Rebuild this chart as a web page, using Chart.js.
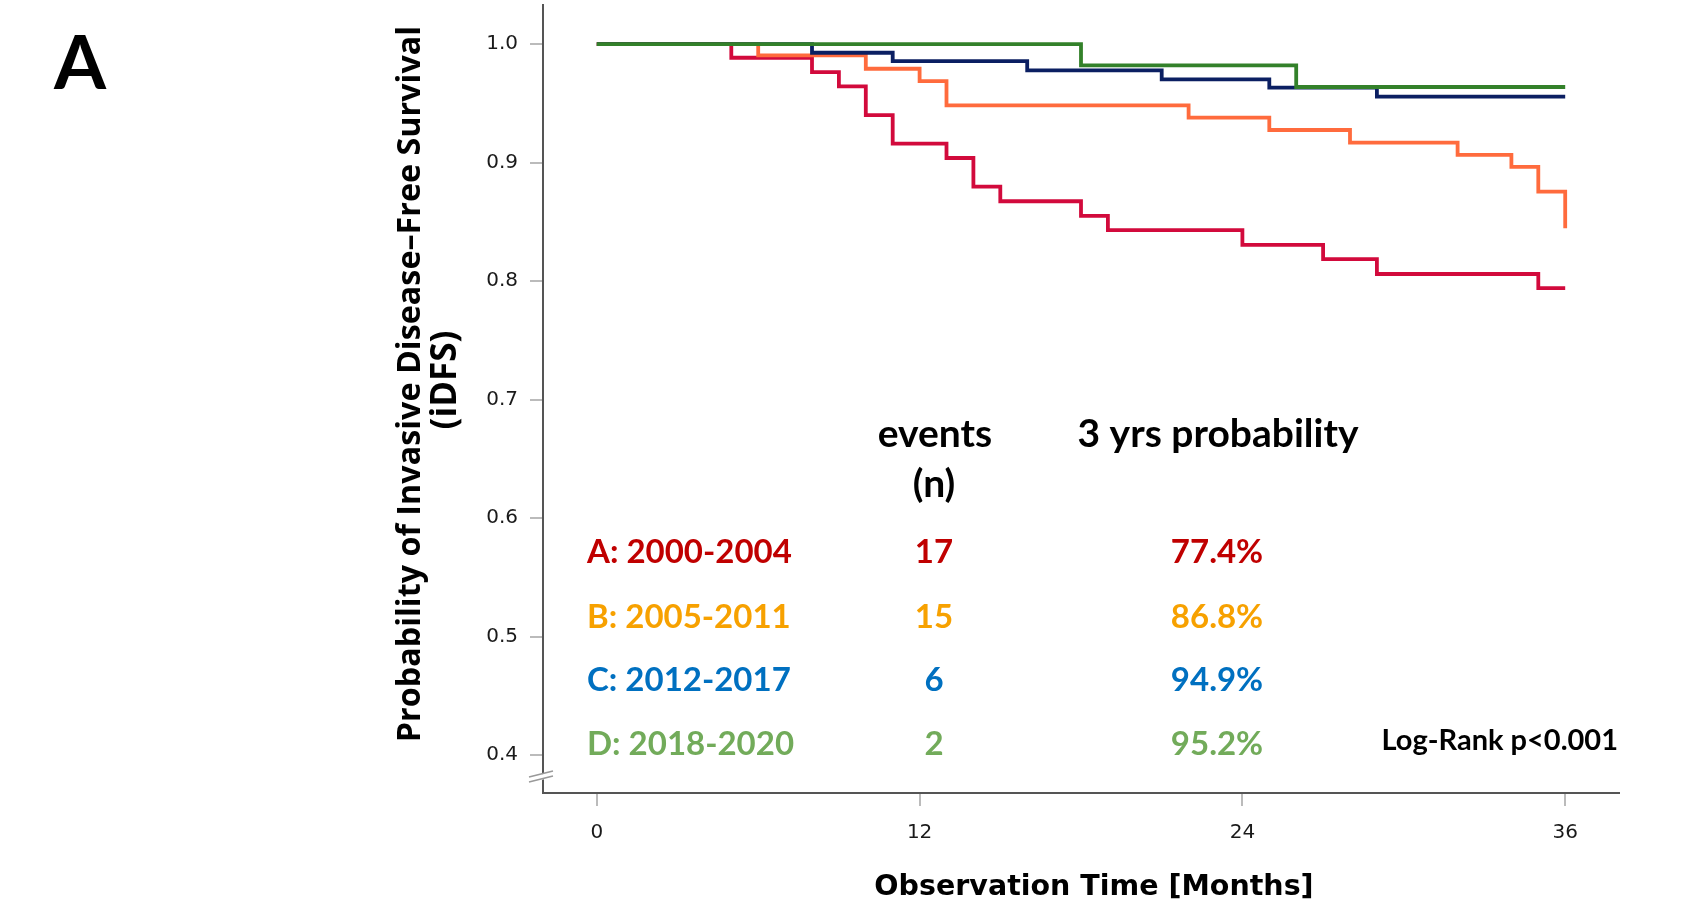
<!DOCTYPE html>
<html>
<head>
<meta charset="utf-8">
<script src="https://cdn.jsdelivr.net/npm/chart.js@4.4.1/dist/chart.umd.min.js"></script>
<style>
  body { margin: 0; background: #fff; }
  canvas { display: block; }
</style>
</head>
<body>
<canvas id="km" width="1697" height="904"></canvas>
<script>
// Kaplan-Meier steps (months, survival after the drop)
const timesA = [0, 5, 8, 9, 10, 11, 13, 14, 15, 18, 19, 24, 27, 29, 35, 36];
const survA  = [1, 0.9885, 0.9764, 0.9643, 0.940, 0.916, 0.9039, 0.8798, 0.8674, 0.855, 0.843, 0.8306, 0.8186, 0.806, 0.7941, 0.7941];
const timesB = [0, 6, 10, 12, 13, 22, 25, 28, 32, 34, 35, 36];
const survB  = [1, 0.9905, 0.9792, 0.9688, 0.9483, 0.9379, 0.9275, 0.9169, 0.9065, 0.8964, 0.8755, 0.8447];
const timesC = [0, 8, 11, 16, 21, 25, 29, 36];
const survC  = [1, 0.9927, 0.9857, 0.9778, 0.9702, 0.9632, 0.9556, 0.9556];
const timesD = [0, 18, 26, 36];
const survD  = [1, 0.982, 0.9638, 0.9638];

const groupLabels = ['A: 2000-2004', 'B: 2005-2011', 'C: 2012-2017', 'D: 2018-2020'];
const eventCounts = ['17', '15', '6', '2'];
const threeYearProb = ['77.4%', '86.8%', '94.9%', '95.2%'];

const xTicks = [0, 12, 24, 36];
const yTicks = [0.4, 0.5, 0.6, 0.7, 0.8, 0.9, 1.0];

const lineColors = ['#D20A3C', '#FF6B3D', '#0B1F62', '#33812A'];
const textColors = ['#C00000', '#F7A100', '#0070C0', '#72AB5A'];

function toPoints(t, s) {
    return t.map((v, i) => ({ x: v, y: s[i] }));
}

const curves = [toPoints(timesA, survA), toPoints(timesB, survB), toPoints(timesC, survC), toPoints(timesD, survD)];

const annotations = {
    id: 'annotations',
    beforeDraw(chart) {
        const c = chart.ctx;
        c.save();
        c.fillStyle = '#fff';
        c.fillRect(0, 0, chart.width, chart.height);
        c.restore();
    },
    afterDraw(chart) {
        const c = chart.ctx;
        const yAxis = chart.scales.y;
        c.save();

        // axis break
        const ax = yAxis.right;
        const by = chart.chartArea.bottom - 22;
        c.fillStyle = '#fff';
        c.beginPath();
        c.moveTo(ax - 6, by + 4.5);
        c.lineTo(ax + 6, by + 1.5);
        c.lineTo(ax + 6, by + 7);
        c.lineTo(ax - 6, by + 10);
        c.closePath();
        c.fill();
        c.strokeStyle = '#999';
        c.lineWidth = 1.5;
        c.beginPath();
        c.moveTo(ax - 14, by + 6);
        c.lineTo(ax + 10, by);
        c.moveTo(ax - 14, by + 11);
        c.lineTo(ax + 10, by + 5);
        c.stroke();

        // panel letter
        c.fillStyle = '#000';
        c.textAlign = 'left';
        c.textBaseline = 'alphabetic';
        c.font = 'bold 75px Lato';
        c.fillText('A', 54, 89);

        // table headers
        c.textAlign = 'center';
        c.font = 'bold 39px Lato';
        c.fillText('events', 935, 447);
        c.fillText('(n)', 934, 497);
        c.fillText('3 yrs probability', 1218, 447);

        // table rows
        const rowY = [563, 627.5, 691, 754.5];
        c.font = 'bold 33px Lato';
        groupLabels.forEach((lab, i) => {
            c.fillStyle = textColors[i];
            c.textAlign = 'left';
            c.fillText(lab, 587, rowY[i]);
            c.textAlign = 'center';
            c.fillText(eventCounts[i], 934, rowY[i]);
            c.fillText(threeYearProb[i], 1217, rowY[i]);
        });

        c.fillStyle = '#000';
        c.textAlign = 'right';
        c.font = 'bold 29px Lato';
        c.fillText('Log-Rank p<0.001', 1618, 750);

        // axis titles
        c.textAlign = 'center';
        c.font = 'bold 28.5px "DejaVu Sans"';
        c.fillText('Observation Time [Months]', 1094, 895);

        c.translate(420, 384);
        c.rotate(-Math.PI / 2);
        c.font = 'bold 32.3px "Open Sans"';
        c.fillText('Probability of Invasive Disease\u2013Free Survival', 0, 0);
        c.font = 'bold 35px "Open Sans"';
        c.fillText('(iDFS)', 4, 36);
        c.restore();
    }
};

const ctx = document.getElementById('km').getContext('2d');
const kmChart = new Chart(ctx, {
    type: 'line',
    data: {
        datasets: curves.map((pts, i) => ({
            label: groupLabels[i],
            data: pts,
            borderColor: lineColors[i],
            borderWidth: 3.8,
            stepped: 'before',
            pointRadius: 0,
            fill: false,
            order: 4 - i
        }))
    },
    options: {
        responsive: false,
        animation: false,
        layout: { padding: { top: 5, right: 78, left: 0, bottom: 0 } },
        plugins: { legend: { display: false }, tooltip: { enabled: false } },
        scales: {
            x: {
                type: 'linear',
                min: -2,
                max: 38,
                afterBuildTicks: s => { s.ticks = xTicks.map(v => ({ value: v })); },
                afterFit: s => { s.height = 111; },
                ticks: { font: { family: 'DejaVu Sans', size: 20 }, color: '#1a1a1a', padding: 15 },
                grid: { drawOnChartArea: false, tickLength: 13, color: '#bbb', lineWidth: 2 },
                border: { color: '#555', width: 2 }
            },
            y: {
                type: 'linear',
                min: 0.368,
                max: 1.033,
                afterBuildTicks: s => { s.ticks = yTicks.map(v => ({ value: v })); },
                afterFit: s => { s.width = 543; s.paddingTop = 0; s.paddingBottom = 0; },
                ticks: { font: { family: 'DejaVu Sans', size: 20 }, color: '#1a1a1a', padding: 12,
                         callback: v => v.toFixed(1) },
                grid: { drawOnChartArea: false, tickLength: 13, color: '#bbb', lineWidth: 2 },
                border: { color: '#555', width: 2 }
            }
        }
    },
    plugins: [annotations]
});
</script>
</body>
</html>
